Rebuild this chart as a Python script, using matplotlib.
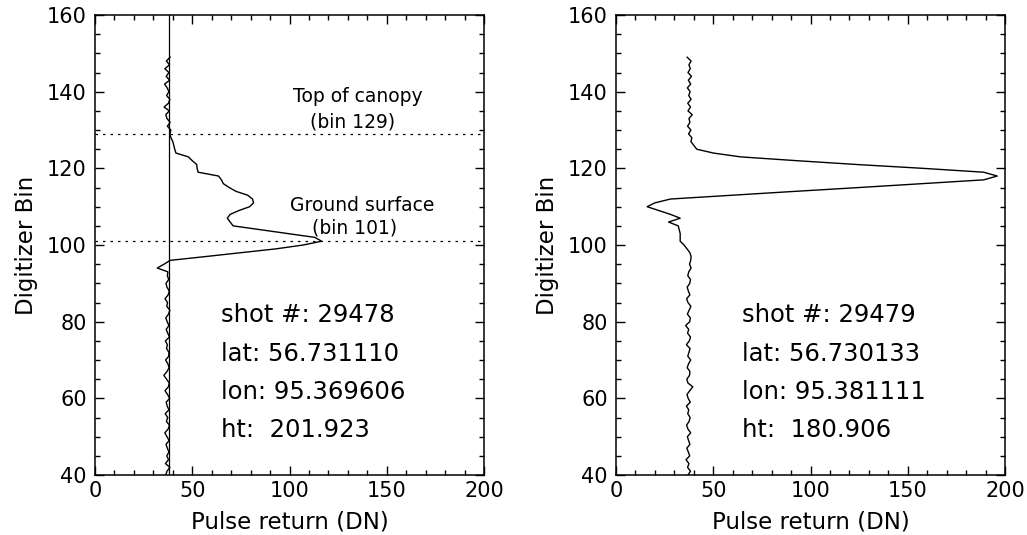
import matplotlib
matplotlib.use("Agg")
import matplotlib.pyplot as plt
from matplotlib.ticker import MultipleLocator

plt.rcParams['font.family'] = ['DejaVu Sans']

# digitizer bins (same for both shots)
bins = list(range(38, 150))

# shot 29478 - pulse return (DN) per bin, 38..149
left_return = [
    36.0, 38.2, 36.4, 37.0, 38.5, 36.2, 37.8, 36.9, 38.0,              # 38-46
    37.2, 36.5, 38.1, 37.0, 35.9, 37.6, 38.3, 36.7, 37.4, 36.1,        # 47-56
    38.0, 37.1, 36.6, 38.4, 37.3, 36.0, 37.7, 38.2, 36.8, 35.4,        # 57-66
    37.0, 38.1, 37.5, 36.3, 37.9, 38.0, 36.8, 37.2, 36.2, 38.3,        # 67-76
    37.4, 36.6, 38.0, 37.1, 36.4, 37.8, 38.5, 36.9, 37.3, 36.0,        # 77-86
    37.6, 38.2, 37.0, 36.5, 37.9, 37.2, 37.5,                          # 87-93
    32.0, 35.5, 38.6, 57.0, 75.0, 93.0, 107.0, 116.5,                  # 94-101
    113.0, 99.0, 85.0, 71.0, 69.5, 68.0, 69.5, 74.0, 79.5, 81.5,       # 102-111
    81.0, 78.5, 72.5, 69.0, 66.0, 65.0, 63.5, 53.0, 52.5, 52.3,        # 112-121
    50.0, 48.0, 41.6, 41.0, 40.5, 40.0, 39.0, 38.5,                    # 122-129
    39.0, 37.2, 38.6, 37.0, 36.4, 38.2, 35.5, 37.8, 38.5, 36.8,        # 130-139
    38.0, 37.1, 35.8, 38.4, 36.6, 38.0, 35.9, 38.3, 36.7, 38.6,        # 140-149
]

# shot 29479
right_return = [
    37.8, 36.2, 37.0, 38.3, 36.8, 37.5, 36.0, 37.9, 37.2,              # 38-46
    36.4, 38.0, 37.3, 36.7, 38.4, 37.0, 36.3, 37.6, 38.1, 36.9,        # 47-56
    37.4, 36.2, 38.2, 37.1, 36.5, 37.9, 39.5, 37.0, 36.4, 37.8,        # 57-66
    38.0, 36.6, 37.3, 38.4, 36.9, 37.5, 38.1, 36.2, 37.7, 38.3,        # 67-76
    36.8, 37.4, 35.8, 37.9, 38.2, 36.7, 37.6, 38.5, 37.0, 36.3,        # 77-86
    38.0, 37.2, 36.6, 37.9, 38.3, 36.9, 37.4, 38.6, 37.8, 38.4, 38.6,  # 87-97
    38.0, 36.5, 35.0, 33.0, 33.0, 33.0, 32.5, 32.0, 27.0, 33.0,        # 98-107
    28.0, 22.0, 16.0, 20.0, 28.0, 60.0, 92.0, 125.0, 157.0, 189.0,     # 108-117
    196.0, 189.0, 158.0, 124.0, 93.0, 64.0, 50.0, 41.5, 40.0, 38.5,    # 118-127
    39.0, 37.3, 38.5, 36.8, 38.0, 37.5, 39.2, 37.0, 38.3, 36.9,        # 128-137
    38.6, 37.4, 38.1, 36.7, 38.4, 37.2, 38.8, 37.0, 38.2, 37.5,        # 138-147
    38.6, 36.6,                                                        # 148-149
]

shot_info = [
    ["shot #: 29478", "lat: 56.731110", "lon: 95.369606", "ht:  201.923"],
    ["shot #: 29479", "lat: 56.730133", "lon: 95.381111", "ht:  180.906"],
]

noise_level = 38
canopy_bin = 129
ground_bin = 101


def setup_axes(ax):
    ax.set_xlim(0, 200)
    ax.set_ylim(40, 160)
    ax.xaxis.set_major_locator(MultipleLocator(50))
    ax.xaxis.set_minor_locator(MultipleLocator(10))
    ax.yaxis.set_major_locator(MultipleLocator(20))
    ax.yaxis.set_minor_locator(MultipleLocator(5))
    ax.tick_params(which='both', direction='in', top=True, right=True,
                   width=1.0, labelsize=15)
    ax.tick_params(which='major', length=6.5)
    ax.tick_params(which='minor', length=3.5)
    ax.tick_params(axis='x', pad=4)
    ax.tick_params(axis='y', pad=6)
    for s in ax.spines.values():
        s.set_linewidth(1.1)
    ax.set_xlabel("Pulse return (DN)", fontsize=16.5, labelpad=7)
    ax.set_ylabel("Digitizer Bin", fontsize=16.5, labelpad=6)


fig = plt.figure(figsize=(10.27, 5.35), dpi=100)
ax1 = fig.add_axes([0.0925, 0.1121, 0.3788, 0.8598])
ax2 = fig.add_axes([0.5998, 0.1121, 0.3788, 0.8598])

for ax, vals, info in [(ax1, left_return, shot_info[0]), (ax2, right_return, shot_info[1])]:
    setup_axes(ax)
    ax.plot(vals, bins, color='black', lw=1.0)
    for i, line in enumerate(info):
        ax.text(64.8, 81.7 - i * 10, line, fontsize=17.5, va='center', ha='left')

# noise level and the canopy / ground markers on the first shot
ax1.axvline(noise_level, color='black', lw=0.9)
ax1.axhline(canopy_bin, color='black', lw=0.9, linestyle=(0, (2, 4)))
ax1.axhline(ground_bin, color='black', lw=0.9, linestyle=(0, (2, 4)))
ax1.text(135.2, 138.7, "Top of canopy", fontsize=13.5, ha='center', va='center')
ax1.text(132.6, 132.2, "(bin 129)", fontsize=13.5, ha='center', va='center')
ax1.text(137.5, 110.4, "Ground surface", fontsize=13.5, ha='center', va='center')
ax1.text(133.2, 104.4, "(bin 101)", fontsize=13.5, ha='center', va='center')

fig.savefig("out.png", dpi=100)
